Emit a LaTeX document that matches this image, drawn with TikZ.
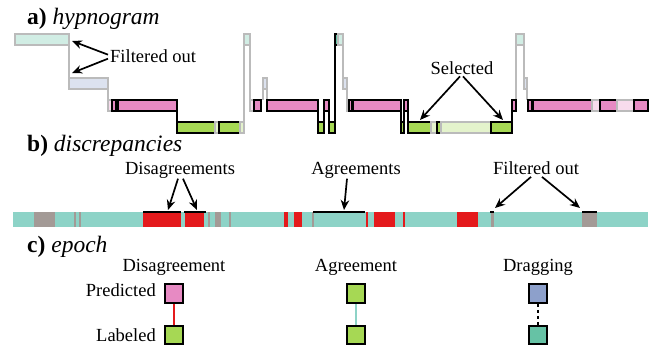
\documentclass[tikz,border=0pt]{standalone}
\usepackage{fontspec}
\setmainfont{Liberation Serif}
\usetikzlibrary{arrows.meta}
\definecolor{pinkc}{HTML}{E78AC3}
\definecolor{greenc}{HTML}{A6D854}
\definecolor{bluec}{HTML}{8DA0CB}
\definecolor{tealc}{HTML}{66C2A5}
\definecolor{tealF}{HTML}{D1EDE4}
\definecolor{lavF}{HTML}{DCE2EF}
\definecolor{pinkF}{HTML}{F8DCED}
\definecolor{greenF}{HTML}{E4F3CC}
\definecolor{agreec}{HTML}{8DD3C7}
\definecolor{disagc}{HTML}{E41A1C}
\definecolor{filtc}{HTML}{A39A96}
\definecolor{fgray}{HTML}{BBBBBB}
\newcommand\Wl{34}
\newcommand\Ll{78}
\newcommand\Pl{100}
\newcommand\Gl{122}
\newcommand\seg[4]{\path[#4] (#1,#3) rectangle (#2,{#3+11});}
\tikzset{
  selb/.style={draw=black, line width=1.5pt},
  fadb/.style={draw=fgray, line width=1.5pt},
  bvert/.style={draw=black, line width=1.5pt},
  gvert/.style={draw=fgray, line width=1.5pt},
  lbl/.style={font=\fontsize{18.5}{22}\selectfont, inner sep=0pt},
  hdr/.style={font=\fontsize{23.5}{28}\selectfont, inner sep=0pt},
  arr/.style={-{Stealth[length=10pt,width=8.5pt]}, line width=1.7pt},
  sq/.style={draw=black, line width=2pt, minimum width=18.5pt, minimum height=18.5pt, inner sep=0pt},
  topline/.style={draw=black, line width=1.5pt}
}
\begin{document}
\begin{tikzpicture}[x=1pt,y=-1pt]
\useasboundingbox (0,0) rectangle (654,349);
% ---------- headers
\node[hdr, anchor=base west] (ha) at (27,24) {\textbf{a)} \textit{hypnogram}};
\node[hdr, anchor=base west] (hb) at (27,151) {\textbf{b)} \textit{discrepancies}};
\node[hdr, anchor=base west] (hc) at (27,252) {\textbf{c)} \textit{epoch}};
% ---------- hypnogram verticals
\draw[gvert] (69,45) -- (69,78);
\draw[gvert] (108,89) -- (108,100);
\draw[gvert] (244,122) -- (244,45);
\draw[gvert] (250,45) -- (250,100);
\draw[gvert] (263,100) -- (263,89);
\draw[gvert] (267,89) -- (267,100);
\draw[gvert] (343,45) -- (343,78);
\draw[gvert] (347,89) -- (347,100);
\draw[gvert] (516,100) -- (516,45);
\draw[gvert] (524,45) -- (524,78);
\draw[gvert] (527,89) -- (527,100);
\draw[bvert] (177,111) -- (177,122);
\draw[bvert] (318,111) -- (318,122);
\draw[bvert] (324,111) -- (324,122);
\draw[bvert] (329,111) -- (329,122);
\draw[bvert] (335,133) -- (335,45);
\draw[bvert] (401,111) -- (401,122);
\draw[bvert] (404,111) -- (404,122);
\draw[bvert] (408,111) -- (408,122);
\draw[bvert] (512,111) -- (512,122);
% ---------- hypnogram segments
\seg{15}{69}{\Wl}{fadb, fill=tealF}
\seg{69}{108}{\Ll}{fadb, fill=lavF}
\seg{108}{112}{\Pl}{fadb, fill=pinkF}
\seg{112}{116}{\Pl}{selb, fill=pinkc}
\seg{118}{177}{\Pl}{selb, fill=pinkc}
\seg{177}{215}{\Gl}{selb, fill=greenc}
\seg{215}{219}{\Gl}{fadb, fill=greenF}
\seg{219}{240}{\Gl}{selb, fill=greenc}
\seg{240}{244}{\Gl}{fadb, fill=greenF}
\seg{244}{250}{\Wl}{fadb, fill=tealF}
\seg{250}{254}{\Pl}{fadb, fill=pinkF}
\seg{254}{261}{\Pl}{selb, fill=pinkc}
\seg{263}{267}{\Ll}{fadb, fill=lavF}
\seg{267}{318}{\Pl}{selb, fill=pinkc}
\seg{318}{324}{\Gl}{selb, fill=greenc}
\seg{324}{329}{\Pl}{selb, fill=pinkc}
\seg{329}{335}{\Gl}{selb, fill=greenc}
\seg{335}{338}{\Wl}{selb, fill=tealc}
\seg{338}{343}{\Wl}{fadb, fill=tealF}
\seg{343}{347}{\Ll}{fadb, fill=lavF}
\seg{347}{349}{\Pl}{fadb, fill=pinkF}
\seg{349}{352}{\Pl}{selb, fill=pinkc}
\seg{353}{401}{\Pl}{selb, fill=pinkc}
\seg{401}{404}{\Gl}{selb, fill=greenc}
\seg{404}{408}{\Pl}{selb, fill=pinkc}
\seg{408}{431}{\Gl}{selb, fill=greenc}
\seg{431}{437}{\Gl}{fadb, fill=greenF}
\seg{437}{441}{\Gl}{selb, fill=greenc}
\seg{441}{491}{\Gl}{fadb, fill=greenF}
\seg{491}{512}{\Gl}{selb, fill=greenc}
\seg{512}{516}{\Pl}{selb, fill=pinkc}
\seg{516}{524}{\Wl}{fadb, fill=tealF}
\seg{524}{527}{\Ll}{fadb, fill=lavF}
\seg{528}{532}{\Pl}{selb, fill=pinkc}
\seg{533}{592}{\Pl}{selb, fill=pinkc}
\seg{592}{600}{\Pl}{fadb, fill=pinkF}
\seg{600}{617}{\Pl}{selb, fill=pinkc}
\seg{617}{634}{\Pl}{fadb, fill=pinkF}
\seg{634}{648}{\Pl}{selb, fill=pinkc}
% ---------- hypnogram annotations
\node[lbl, anchor=base west] (foa) at (110,62) {Filtered out};
\coordinate (foaT1) at (72,41);
\coordinate (foaT2) at (72,73);
\draw[arr] ([xshift=-2pt,yshift=1pt]foa.west) -- (foaT1);
\draw[arr] ([xshift=-2pt,yshift=-3pt]foa.west) -- (foaT2);
\node[lbl, anchor=base] (sel) at (462,74) {Selected};
\coordinate (selT1) at (420,120);
\coordinate (selT2) at (503,120);
\draw[arr] ([xshift=-2pt,yshift=-2pt]sel.south) -- (selT1);
\draw[arr] ([xshift=1pt,yshift=-2pt]sel.south) -- (selT2);
% ---------- discrepancy bar
\fill[agreec] (13,212) rectangle (648,227);
\foreach \a/\b in {34/55, 74/76, 79/81, 208/210, 215/221, 229/231, 312/314, 491/494, 582/597}
  \fill[filtc] (\a,212) rectangle (\b,227);
\foreach \a/\b in {143/181, 185/204, 284/288, 294/302, 366/368, 374/395, 403/405, 457/478}
  \fill[disagc] (\a,212) rectangle (\b,227);
\foreach \a/\b in {143/181, 184/206, 313/365, 490/494, 582/597}
  \draw[topline] (\a,212) -- (\b,212);
\node[lbl, anchor=base] (dis) at (180,174.5) {Disagreements};
\coordinate (disT1) at (168,210);
\coordinate (disT2) at (197,210);
\draw[arr] ([xshift=-2pt]dis.south) -- (disT1);
\draw[arr] ([xshift=3pt]dis.south) -- (disT2);
\node[lbl, anchor=base] (agr) at (356,174.5) {Agreements};
\coordinate (agrT) at (344,210);
\draw[arr] ([xshift=-9pt]agr.south) -- (agrT);
\node[lbl, anchor=base] (fob) at (536,174.5) {Filtered out};
\coordinate (fobT1) at (495,208);
\coordinate (fobT2) at (580,208);
\draw[arr] ([xshift=-5pt,yshift=-2pt]fob.south) -- (fobT1);
\draw[arr] ([xshift=6pt,yshift=-2pt]fob.south) -- (fobT2);
% ---------- epoch legend
\node[lbl, anchor=base] (cd) at (174,271.5) {Disagreement};
\node[lbl, anchor=base] (ca) at (356,271.5) {Agreement};
\node[lbl, anchor=base] (cg) at (538,271.5) {Dragging};
\node[lbl, anchor=base east] (pr) at (156,296) {Predicted};
\node[lbl, anchor=base east] (lb) at (156,341) {Labeled};
\node[sq, fill=pinkc] (p1) at (174,293.7) {};
\node[sq, fill=greenc] (l1) at (174,335) {};
\node[sq, fill=greenc] (p2) at (356,293.7) {};
\node[sq, fill=greenc] (l2) at (356,335) {};
\node[sq, fill=bluec] (p3) at (538,293.7) {};
\node[sq, fill=tealc] (l3) at (538,335) {};
\draw[disagc, line width=2pt] (p1) -- (l1);
\draw[agreec, line width=2pt] (p2) -- (l2);
\draw[black, line width=2pt, dash pattern=on 3pt off 3pt] (p3) -- (l3);
\end{tikzpicture}
\end{document}
